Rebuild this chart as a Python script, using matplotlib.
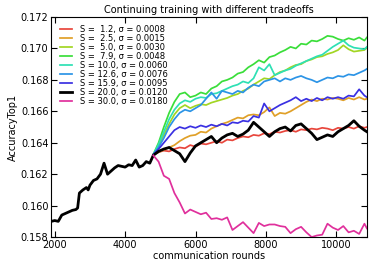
import numpy as np
import matplotlib
matplotlib.use('Agg')
import matplotlib.pyplot as plt

# pre-branch training (S = 20.0 run only)
rounds_before = [1900, 2000, 2100, 2200, 2300, 2400, 2500, 2600, 2650, 2700, 2800, 2900, 2950,
                 3000, 3100, 3200, 3300, 3400, 3500, 3600, 3700, 3800, 3900, 4000, 4100, 4200,
                 4300, 4400, 4500, 4600, 4700]
acc_before = [0.15900, 0.15905, 0.15900, 0.15940, 0.15950, 0.15960, 0.15970, 0.15975, 0.15985,
              0.16080, 0.16100, 0.16115, 0.16100, 0.16130, 0.16160, 0.16170, 0.16200, 0.16270,
              0.16200, 0.16220, 0.16240, 0.16255, 0.16250, 0.16245, 0.16260, 0.16255, 0.16290,
              0.16245, 0.16255, 0.16280, 0.16270]

# continued training
rounds_after = [4800, 4950, 5100, 5250, 5400, 5550, 5700, 5850, 6000, 6150, 6300, 6450, 6600,
                6750, 6900, 7050, 7200, 7350, 7500, 7650, 7800, 7950, 8100, 8250, 8400, 8550,
                8700, 8850, 9000, 9150, 9300, 9450, 9600, 9750, 9900, 10050, 10200, 10350,
                10500, 10650, 10800, 10870]

S_vals = [1.2, 2.5, 5.0, 7.9, 10.0, 12.6, 15.9, 20.0, 30.0]
sigma_vals = [0.0008, 0.0015, 0.0030, 0.0048, 0.0060, 0.0076, 0.0095, 0.0120, 0.0180]

acc_s1_2 = [0.16325, 0.16340, 0.16350, 0.16345, 0.16360, 0.16370, 0.16365, 0.16385, 0.16375,
            0.16395, 0.16390, 0.16400, 0.16410, 0.16400, 0.16420, 0.16415, 0.16430, 0.16440,
            0.16435, 0.16450, 0.16445, 0.16460, 0.16455, 0.16470, 0.16465, 0.16475, 0.16480,
            0.16470, 0.16485, 0.16480, 0.16490, 0.16485, 0.16495, 0.16490, 0.16480, 0.16495,
            0.16490, 0.16500, 0.16490, 0.16505, 0.16495, 0.16500]
acc_s2_5 = [0.16325, 0.16340, 0.16355, 0.16370, 0.16385, 0.16410, 0.16430, 0.16445, 0.16450,
            0.16470, 0.16465, 0.16490, 0.16505, 0.16520, 0.16530, 0.16545, 0.16560, 0.16555,
            0.16575, 0.16580, 0.16575, 0.16595, 0.16625, 0.16570, 0.16590, 0.16585, 0.16600,
            0.16620, 0.16640, 0.16660, 0.16675, 0.16665, 0.16680, 0.16675, 0.16685, 0.16680,
            0.16670, 0.16685, 0.16675, 0.16690, 0.16675, 0.16680]
acc_s5_0 = [0.16325, 0.16380, 0.16450, 0.16520, 0.16580, 0.16620, 0.16640, 0.16620, 0.16635,
            0.16645, 0.16640, 0.16655, 0.16665, 0.16675, 0.16685, 0.16700, 0.16710, 0.16730,
            0.16745, 0.16770, 0.16790, 0.16810, 0.16805, 0.16830, 0.16850, 0.16860, 0.16880,
            0.16895, 0.16900, 0.16920, 0.16930, 0.16945, 0.16950, 0.16965, 0.16975, 0.16990,
            0.17020, 0.16995, 0.16980, 0.16985, 0.16990, 0.17005]
acc_s7_9 = [0.16325, 0.16400, 0.16500, 0.16590, 0.16660, 0.16710, 0.16720, 0.16690, 0.16700,
            0.16720, 0.16710, 0.16745, 0.16760, 0.16790, 0.16800, 0.16815, 0.16840, 0.16850,
            0.16880, 0.16900, 0.16925, 0.16910, 0.16945, 0.16955, 0.16975, 0.16990, 0.17010,
            0.17000, 0.17030, 0.17025, 0.17050, 0.17045, 0.17060, 0.17080, 0.17075, 0.17060,
            0.17050, 0.17065, 0.17055, 0.17070, 0.17050, 0.17070]
acc_s10_0 = [0.16325, 0.16390, 0.16470, 0.16550, 0.16610, 0.16650, 0.16670, 0.16660, 0.16680,
             0.16690, 0.16685, 0.16710, 0.16715, 0.16730, 0.16745, 0.16760, 0.16770, 0.16790,
             0.16780, 0.16810, 0.16880, 0.16860, 0.16900, 0.16830, 0.16845, 0.16860, 0.16870,
             0.16890, 0.16905, 0.16920, 0.16935, 0.16950, 0.16960, 0.16985, 0.17010, 0.17030,
             0.17050, 0.17020, 0.17005, 0.17000, 0.16995, 0.17010]
acc_s12_6 = [0.16325, 0.16370, 0.16430, 0.16500, 0.16550, 0.16590, 0.16610, 0.16600, 0.16620,
             0.16640, 0.16680, 0.16720, 0.16680, 0.16730, 0.16720, 0.16710, 0.16730, 0.16720,
             0.16750, 0.16770, 0.16760, 0.16790, 0.16800, 0.16810, 0.16790, 0.16810, 0.16800,
             0.16815, 0.16825, 0.16810, 0.16800, 0.16785, 0.16800, 0.16815, 0.16810, 0.16825,
             0.16820, 0.16835, 0.16830, 0.16845, 0.16860, 0.16870]
acc_s15_9 = [0.16325, 0.16360, 0.16400, 0.16440, 0.16480, 0.16500, 0.16490, 0.16505, 0.16495,
             0.16510, 0.16500, 0.16515, 0.16505, 0.16520, 0.16510, 0.16530, 0.16525, 0.16540,
             0.16535, 0.16570, 0.16560, 0.16650, 0.16600, 0.16620, 0.16640, 0.16655, 0.16670,
             0.16690, 0.16665, 0.16680, 0.16665, 0.16685, 0.16670, 0.16690, 0.16680, 0.16690,
             0.16680, 0.16700, 0.16695, 0.16740, 0.16700, 0.16690]
acc_s20_0 = [0.16320, 0.16345, 0.16360, 0.16370, 0.16350, 0.16330, 0.16280, 0.16335, 0.16380,
             0.16400, 0.16420, 0.16440, 0.16400, 0.16430, 0.16450, 0.16460, 0.16440, 0.16455,
             0.16480, 0.16530, 0.16500, 0.16470, 0.16440, 0.16470, 0.16490, 0.16500, 0.16475,
             0.16510, 0.16520, 0.16490, 0.16460, 0.16420, 0.16435, 0.16450, 0.16440, 0.16470,
             0.16490, 0.16510, 0.16540, 0.16505, 0.16480, 0.16470]
acc_s30_0 = [0.16320, 0.16280, 0.16190, 0.16170, 0.16080, 0.16020, 0.15950, 0.15975, 0.15960,
             0.15945, 0.15955, 0.15915, 0.15920, 0.15910, 0.15925, 0.15845, 0.15870, 0.15895,
             0.15860, 0.15825, 0.15890, 0.15870, 0.15880, 0.15880, 0.15870, 0.15865, 0.15825,
             0.15850, 0.15865, 0.15830, 0.15800, 0.15810, 0.15815, 0.15885, 0.15860, 0.15845,
             0.15870, 0.15830, 0.15840, 0.15820, 0.15885, 0.15855]

series = [acc_s1_2, acc_s2_5, acc_s5_0, acc_s7_9, acc_s10_0, acc_s12_6, acc_s15_9, acc_s20_0, acc_s30_0]
colours = ['#e8463c', '#e0a028', '#a2d624', '#3ade3a', '#2ee0b4', '#2c94e6', '#3a30e2', 'black', '#e0309c']

fig = plt.figure(figsize=(3.74, 2.70), dpi=100)
ax = fig.add_axes([0.137, 0.122, 0.844, 0.815])

for S, sig, vals, c in zip(S_vals, sigma_vals, series, colours):
    lbl = 'S = %4.1f, σ = %.4f' % (S, sig)
    if S == 20.0:
        ax.plot(rounds_before + rounds_after, acc_before + vals, color=c, lw=2.0, label=lbl)
    else:
        ax.plot(rounds_after, vals, color=c, lw=1.25, label=lbl)

ax.set_xlim(1900, 10870)
ax.set_ylim(0.158, 0.172)
ax.set_xticks([2000, 4000, 6000, 8000, 10000])
ax.set_yticks(np.arange(0.158, 0.1721, 0.002))
ax.yaxis.set_major_formatter(matplotlib.ticker.FormatStrFormatter('%.3f'))
ax.tick_params(direction='in', top=True, right=True, length=4, labelsize=7, pad=2)
ax.set_xlabel('communication rounds', fontsize=7, labelpad=1)
ax.set_ylabel('AccuracyTop1', fontsize=7, labelpad=2)
ax.set_title('Continuing training with different tradeoffs', fontsize=7, pad=3)
ax.legend(loc='upper left', frameon=False, labelspacing=0.0, fontsize=6.0,
          handlelength=1.5, handletextpad=0.9, borderaxespad=0.7, borderpad=0.3)

fig.savefig('out.png', dpi=100)
